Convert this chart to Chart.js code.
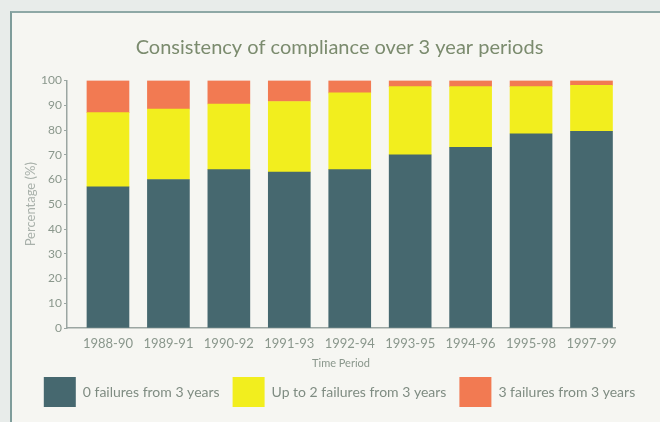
<!DOCTYPE html>
<html>
<head>
<meta charset="utf-8">
<script src="https://cdn.jsdelivr.net/npm/chart.js@4.4.1/dist/chart.umd.min.js"></script>
<style>
  html, body { margin: 0; padding: 0; width: 660px; height: 422px; overflow: hidden; background: #e8ecea; }
  #frame { position: absolute; left: 10px; top: 11px; width: 700px; height: 500px;
           border-left: 2px solid #7f9d9b; border-top: 2px solid #8ea8a6; background: #f6f6f2; }
  #wrap { position: absolute; left: 0; top: 0; width: 660px; height: 422px; }
</style>
</head>
<body>
<div id="frame"></div>
<div id="wrap"><canvas id="c" width="660" height="422"></canvas></div>
<script>
const periods = ['1988-90','1989-91','1990-92','1991-93','1992-94','1993-95','1994-96','1995-98','1997-99'];
const zeroFailures = [57, 60, 64, 63, 64, 70, 73, 78.5, 79.5];
const upToTwoFailures = [30, 28.5, 26.5, 28.5, 31, 27.5, 24.5, 19, 18.5];
const threeFailures = [13, 11.5, 9.5, 8.5, 5, 2.5, 2.5, 2.5, 2];
const yTicks = [0,10,20,30,40,50,60,70,80,90,100];

const toPts = arr => arr.map((v, i) => ({x: i, y: v}));
const FONT = 'Lato';
const grayText = '#8a978c';
const axisColor = '#9ba6a2';

// nudge the full-width title and legend boxes slightly right (as in the reference)
const shiftBoxes = {
  id: 'shiftBoxes',
  afterLayout(chart) {
    if (chart.titleBlock) { chart.titleBlock.left += 5; chart.titleBlock.right += 5; }
    if (chart.legend) { chart.legend.left += 5; chart.legend.right += 5; }
  }
};

new Chart(document.getElementById('c'), {
  type: 'bar',
  data: {
    datasets: [
      { label: '0 failures from 3 years', data: toPts(zeroFailures), backgroundColor: '#46686f', barThickness: 42 },
      { label: 'Up to 2 failures from 3 years', data: toPts(upToTwoFailures), backgroundColor: '#f2ee1e', barThickness: 42 },
      { label: '3 failures from 3 years', data: toPts(threeFailures), backgroundColor: '#f27a52', barThickness: 42 }
    ]
  },
  plugins: [shiftBoxes],
  options: {
    responsive: false,
    animation: false,
    layout: { padding: { left: 14, right: 5, top: 0, bottom: 5 } },
    plugins: {
      title: {
        display: true,
        text: 'Consistency of compliance over 3 year periods',
        color: '#7b8b6e',
        font: { family: FONT, size: 20, weight: 'normal' },
        padding: { top: 36, bottom: 20.5 }
      },
      legend: {
        position: 'bottom',
        labels: {
          boxWidth: 32, boxHeight: 30, padding: 13,
          color: '#7f8c82',
          font: { family: FONT, size: 14 }
        }
      },
      tooltip: { enabled: false }
    },
    scales: {
      x: {
        type: 'linear',
        stacked: true,
        offset: false,
        min: -0.678, max: 8.389,
        afterBuildTicks: s => { s.ticks = periods.map((_, i) => ({ value: i })); },
        afterFit: s => { s.height = 36; },
        ticks: {
          callback: v => periods[v],
          color: grayText,
          font: { family: FONT, size: 13 },
          padding: 8,
          maxRotation: 0, autoSkip: false
        },
        grid: { drawOnChartArea: false, drawTicks: false, offset: false },
        border: { color: axisColor, width: 1.5 },
        title: {
          display: true, text: 'Time Period', color: grayText,
          font: { family: FONT, size: 11 }, padding: { top: 4, bottom: -6 }
        }
      },
      y: {
        stacked: true,
        min: 0, max: 100,
        afterBuildTicks: s => { s.ticks = yTicks.map(v => ({ value: v })); },
        ticks: {
          color: grayText,
          font: { family: FONT, size: 12 },
          padding: 2
        },
        grid: { drawOnChartArea: false, drawTicks: true, tickLength: 3, color: axisColor },
        border: { color: axisColor, width: 1.5 },
        title: {
          display: true, text: 'Percentage (%)', color: '#a9b1ab',
          font: { family: FONT, size: 13 }, padding: { top: 9, bottom: 0 }
        },
        afterFit: s => { s.width = 53; }
      },
      // empty right-hand spacer so the plot ends where the reference's does
      yRight: {
        position: 'right',
        min: 0, max: 100,
        grid: { display: false },
        border: { display: false },
        ticks: { display: false },
        afterFit: s => { s.width = 40; }
      }
    }
  }
});
</script>
</body>
</html>
